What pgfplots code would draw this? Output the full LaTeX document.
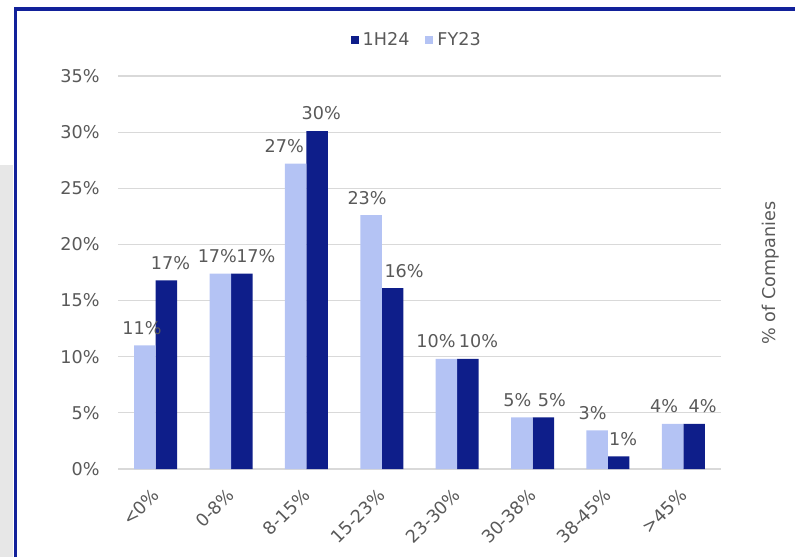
\documentclass[border=0pt]{standalone}
\usepackage{fontspec}
\setmainfont{DejaVu Sans}
\usepackage{pgfplots}
\usepackage{pgfplotstable}
\pgfplotsset{compat=1.18}
\definecolor{dark}{HTML}{0E1E8A}
\definecolor{light}{HTML}{B4C3F4}
\definecolor{txt}{HTML}{595959}
\definecolor{gridc}{HTML}{D9D9D9}
\definecolor{frame}{HTML}{12219A}
\definecolor{side}{HTML}{E7E7E7}
\pgfplotstableread{
x  fy    h1    dxa    dxb
0  11.0  16.8  -1.5   2.0
1  17.4  17.4  -1.5   7.0
2  27.2  30.1  -5.75  2.0
3  22.6  16.1  -2.0   5.75
4  9.8   9.8   -5.25  5.25
5  4.6   4.6   -2.25  4.25
6  3.45  1.13  -2.25  2.25
7  4.03  4.03  -4.25  4.25
}\data
\begin{document}
\begin{tikzpicture}
\useasboundingbox (0,0) rectangle (397.5pt,278.5pt);
\fill[side] (0,0) rectangle (6.65pt,196pt);
\draw[frame, line width=1.75pt] (7.65pt,0) -- (7.65pt,273.9pt) -- (397.5pt,273.9pt);
\begin{axis}[
  at={(59pt,44pt)}, anchor=south west,
  scale only axis, width=301.5pt, height=196.5pt,
  xmin=-0.5, xmax=7.5, ymin=0, ymax=35,
  font=\fontsize{8.8}{10.5}\selectfont, color=txt,
  /pgf/number format/assume math mode=true,
  axis x line*=bottom, axis y line*=left,
  x axis line style={gridc, line width=0.6pt, -},
  y axis line style={draw=none},
  ytick={0,5,...,35},
  yticklabel={\pgfmathprintnumber{\tick}\%},
  yticklabel style={anchor=east, inner sep=0pt, xshift=-9pt, text=txt},
  ytick style={draw=none},
  ymajorgrids, grid style={gridc, line width=0.6pt},
  xtick={0,...,7},
  xticklabels={{<0\%},{0-8\%},{8-15\%},{15-23\%},{23-30\%},{30-38\%},{38-45\%},{>45\%}},
  xticklabel style={xshift=-2.35pt, yshift=-4.5pt, rotate=45, anchor=north east, inner sep=0pt, text=txt},
  major x tick style={draw=none},
  extra x ticks={-0.5,0.5,...,7.5},
  extra x tick labels={},
  extra x tick style={grid=none, major tick length=3pt, tick style={gridc, line width=0.6pt}, tick align=outside},
  ybar, bar width=10.75pt,
  nodes near coords={\pgfmathprintnumber[fixed,precision=0]{\pgfplotspointmeta}\%},
  nodes near coords style={anchor=center, yshift=8.75pt, inner sep=0pt, text=txt},
  legend style={at={(0.497,1.0916)}, anchor=center, draw=none, fill=none,
    legend columns=2, text=txt, font=\fontsize{8.8}{10.5}\selectfont,
    /tikz/every even column/.append style={column sep=6pt}},
]
\addplot[fill=dark, draw=none, bar shift=5.375pt,
  visualization depends on={\thisrow{dxb} \as \ldx},
  nodes near coords style={xshift=\ldx pt},
  legend image code/.code={\fill[dark] (0pt,-2pt) rectangle (4pt,2pt);}]
  table[x=x, y=h1] {\data};
\addlegendentry{1H24}
\addplot[fill=light, draw=none, bar shift=-5.375pt,
  visualization depends on={\thisrow{dxa} \as \ldx},
  nodes near coords style={xshift=\ldx pt},
  legend image code/.code={\fill[light] (0pt,-2pt) rectangle (4pt,2pt);}]
  table[x=x, y=fy] {\data};
\addlegendentry{FY23}
\end{axis}
\node[rotate=90, text=txt, font=\fontsize{8.8}{10.5}\selectfont] at (385.5pt,142pt) {\% of Companies};
\end{tikzpicture}
\end{document}
